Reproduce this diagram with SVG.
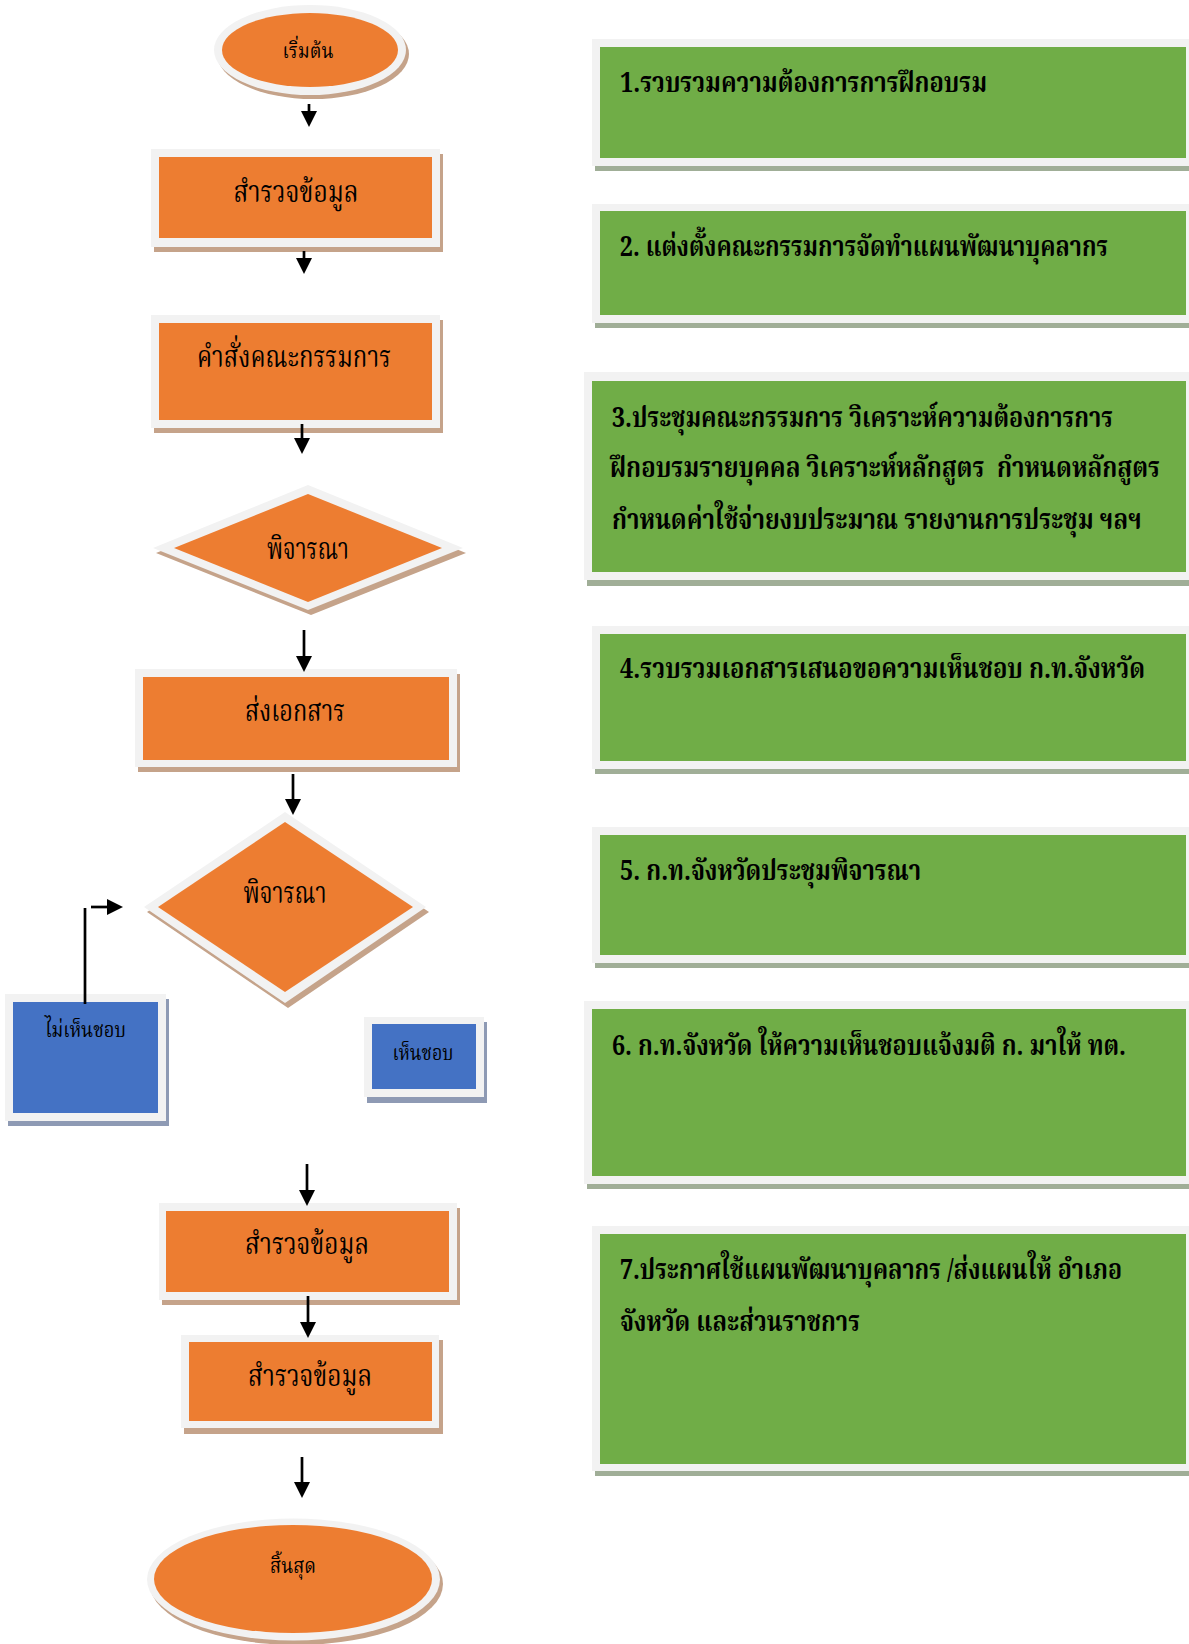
<svg xmlns="http://www.w3.org/2000/svg" width="1189" height="1644" viewBox="0 0 1189 1644">
<defs>
<style>
.frame{fill:#F2F2F2}
.or{fill:#ED7D31}
.orsh{fill:#C5A38A}
.gr{fill:#70AD47}
.grsh{fill:#A0AE97}
.bl{fill:#4472C4}
.blsh{fill:#8E9AB4}
.t{font-family:"Noto Serif Thai","Noto Sans Thai","Tlwg Typo","Loma","Garuda","Liberation Serif",serif;fill:#000}
.tl{font-size:30px;text-anchor:middle}
.ts{font-size:21px;text-anchor:middle}
.tg{font-size:28px;font-weight:bold}
.conn path{stroke:#000;stroke-width:2.7;fill:none}
</style>
<marker id="ah" markerUnits="userSpaceOnUse" markerWidth="17" markerHeight="17" refX="0" refY="8" orient="auto">
<path d="M0,0 L16,8 L0,16 z" fill="#000"/>
</marker>
</defs>
<rect width="1189" height="1644" fill="#fff"/>

<g id="start">
<ellipse class="orsh" cx="313" cy="54" rx="96" ry="45"/>
<ellipse class="frame" cx="310" cy="50" rx="96" ry="45"/>
<ellipse class="or" cx="310" cy="50" rx="88" ry="37"/>
<text class="t ts" x="308" y="58" textLength="51" lengthAdjust="spacingAndGlyphs">เริ่มต้น</text>
</g>

<g id="survey1">
<rect class="orsh" x="154" y="154" width="289" height="98"/>
<rect class="frame" x="151" y="149" width="289" height="98"/>
<rect class="or" x="159" y="157" width="273" height="81"/>
<text class="t tl" x="296" y="202" textLength="125" lengthAdjust="spacingAndGlyphs">สำรวจข้อมูล</text>
</g>

<g id="order">
<rect class="orsh" x="154" y="320" width="289" height="113"/>
<rect class="frame" x="151" y="315" width="289" height="113"/>
<rect class="or" x="159" y="323" width="273" height="97"/>
<text class="t tl" x="294" y="367" textLength="194" lengthAdjust="spacingAndGlyphs">คำสั่งคณะกรรมการ</text>
</g>

<g id="decide1">
<polygon class="orsh" points="311,490 466,553 311,615 156,553"/>
<polygon class="frame" points="308,485 463,548 308,610 153,548"/>
<polygon class="or" points="308,494 442,548 308,602 174,548"/>
<text class="t tl" x="308" y="559" textLength="82" lengthAdjust="spacingAndGlyphs">พิจารณา</text>
</g>

<g id="send">
<rect class="orsh" x="138" y="674" width="322" height="98"/>
<rect class="frame" x="135" y="669" width="322" height="98"/>
<rect class="or" x="143" y="677" width="306" height="83"/>
<text class="t tl" x="295" y="721" textLength="100" lengthAdjust="spacingAndGlyphs">ส่งเอกสาร</text>
</g>

<g id="decide2">
<polygon class="orsh" points="288,817 429,912 288,1008 147,912"/>
<polygon class="frame" points="285,812 426,907 285,1003 144,907"/>
<polygon class="or" points="285,822 413,907 285,992 158,907"/>
<text class="t tl" x="285" y="903" textLength="83" lengthAdjust="spacingAndGlyphs">พิจารณา</text>
</g>

<g id="reject">
<rect class="blsh" x="8" y="999" width="161" height="127"/>
<rect class="frame" x="5" y="994" width="161" height="127"/>
<rect class="bl" x="13" y="1002" width="145" height="111"/>
<text class="t ts" x="85.5" y="1037" textLength="81" lengthAdjust="spacingAndGlyphs">ไม่เห็นชอบ</text>
</g>

<g id="approve">
<rect class="blsh" x="367" y="1022" width="120" height="81"/>
<rect class="frame" x="364" y="1017" width="120" height="80"/>
<rect class="bl" x="372" y="1024" width="104" height="65"/>
<text class="t ts" x="423" y="1060" textLength="61" lengthAdjust="spacingAndGlyphs">เห็นชอบ</text>
</g>

<g id="survey2">
<rect class="orsh" x="162" y="1208" width="298" height="97"/>
<rect class="frame" x="159" y="1203" width="298" height="97"/>
<rect class="or" x="166" y="1211" width="283" height="81"/>
<text class="t tl" x="307" y="1254" textLength="124" lengthAdjust="spacingAndGlyphs">สำรวจข้อมูล</text>
</g>

<g id="survey3">
<rect class="orsh" x="184" y="1340" width="259" height="94"/>
<rect class="frame" x="181" y="1335" width="258" height="93"/>
<rect class="or" x="189" y="1342" width="243" height="79"/>
<text class="t tl" x="310" y="1386" textLength="124" lengthAdjust="spacingAndGlyphs">สำรวจข้อมูล</text>
</g>

<g id="end">
<ellipse class="orsh" cx="296.5" cy="1584" rx="146.5" ry="61"/>
<ellipse class="frame" cx="293.5" cy="1579.5" rx="146.5" ry="61"/>
<ellipse class="or" cx="293" cy="1579" rx="139" ry="54"/>
<text class="t ts" x="293" y="1573" textLength="46" lengthAdjust="spacingAndGlyphs">สิ้นสุด</text>
</g>

<g id="step1">
<rect class="grsh" x="595" y="44" width="600" height="127"/>
<rect class="frame" x="592" y="39" width="600" height="127"/>
<rect class="gr" x="600" y="47" width="586" height="111"/>
<text class="t tg" x="620" y="92" transform="matrix(0.8,0,0,1,124,0)" textLength="458.75" lengthAdjust="spacingAndGlyphs">1.รวบรวมความต้องการการฝึกอบรม</text>
</g>

<g id="step2">
<rect class="grsh" x="595" y="209" width="600" height="119"/>
<rect class="frame" x="592" y="204" width="600" height="119"/>
<rect class="gr" x="600" y="211" width="586" height="104"/>
<text class="t tg" x="620" y="256" transform="matrix(0.8,0,0,1,124,0)" textLength="610" lengthAdjust="spacingAndGlyphs">2. แต่งตั้งคณะกรรมการจัดทำแผนพัฒนาบุคลากร</text>
</g>

<g id="step3">
<rect class="grsh" x="587" y="377" width="610" height="209"/>
<rect class="frame" x="584" y="372" width="610" height="208"/>
<rect class="gr" x="592" y="381" width="594" height="191"/>
<text class="t tg" x="612" y="427" transform="matrix(0.8,0,0,1,122.4,0)" textLength="626.25" lengthAdjust="spacingAndGlyphs">3.ประชุมคณะกรรมการ วิเคราะห์ความต้องการการ</text>
<text class="t tg" x="610" y="477" transform="matrix(0.8,0,0,1,122,0)" textLength="687.5" lengthAdjust="spacingAndGlyphs" xml:space="preserve">ฝึกอบรมรายบุคคล วิเคราะห์หลักสูตร  กำหนดหลักสูตร</text>
<text class="t tg" x="612" y="529" transform="matrix(0.8,0,0,1,122.4,0)" textLength="662.5" lengthAdjust="spacingAndGlyphs">กำหนดค่าใช้จ่ายงบประมาณ รายงานการประชุม ฯลฯ</text>
</g>

<g id="step4">
<rect class="grsh" x="595" y="631" width="600" height="143"/>
<rect class="frame" x="592" y="626" width="600" height="143"/>
<rect class="gr" x="600" y="634" width="586" height="127"/>
<text class="t tg" x="620" y="678" transform="matrix(0.8,0,0,1,124,0)" textLength="656.25" lengthAdjust="spacingAndGlyphs">4.รวบรวมเอกสารเสนอขอความเห็นชอบ ก.ท.จังหวัด</text>
</g>

<g id="step5">
<rect class="grsh" x="595" y="832" width="600" height="136"/>
<rect class="frame" x="592" y="827" width="600" height="136"/>
<rect class="gr" x="600" y="835" width="586" height="120"/>
<text class="t tg" x="620" y="880" transform="matrix(0.8,0,0,1,124,0)" textLength="376.25" lengthAdjust="spacingAndGlyphs">5. ก.ท.จังหวัดประชุมพิจารณา</text>
</g>

<g id="step6">
<rect class="grsh" x="587" y="1006" width="610" height="183"/>
<rect class="frame" x="584" y="1001" width="610" height="183"/>
<rect class="gr" x="592" y="1009" width="594" height="167"/>
<text class="t tg" x="612" y="1055" transform="matrix(0.8,0,0,1,122.4,0)" textLength="642.5" lengthAdjust="spacingAndGlyphs">6. ก.ท.จังหวัด ให้ความเห็นชอบแจ้งมติ ก. มาให้ ทต.</text>
</g>

<g id="step7">
<rect class="grsh" x="595" y="1231" width="600" height="245"/>
<rect class="frame" x="592" y="1226" width="600" height="245"/>
<rect class="gr" x="600" y="1234" width="586" height="230"/>
<text class="t tg" x="620" y="1279" transform="matrix(0.8,0,0,1,124,0)" textLength="627.5" lengthAdjust="spacingAndGlyphs">7.ประกาศใช้แผนพัฒนาบุคลากร /ส่งแผนให้ อำเภอ</text>
<text class="t tg" x="620" y="1331" transform="matrix(0.8,0,0,1,124,0)" textLength="300" lengthAdjust="spacingAndGlyphs">จังหวัด และส่วนราชการ</text>
</g>

<g id="connectors" class="conn">
<path d="M309,104 V111" marker-end="url(#ah)"/>
<path d="M304,251 V258" marker-end="url(#ah)"/>
<path d="M302,424 V438" marker-end="url(#ah)"/>
<path d="M304,630 V656" marker-end="url(#ah)"/>
<path d="M293,774 V799" marker-end="url(#ah)"/>
<path d="M85,1004 V908"/>
<path d="M91,907 H107" marker-end="url(#ah)"/>
<path d="M307,1164 V1190" marker-end="url(#ah)"/>
<path d="M308,1296 V1322" marker-end="url(#ah)"/>
<path d="M302,1457 V1482" marker-end="url(#ah)"/>
</g>
</svg>
